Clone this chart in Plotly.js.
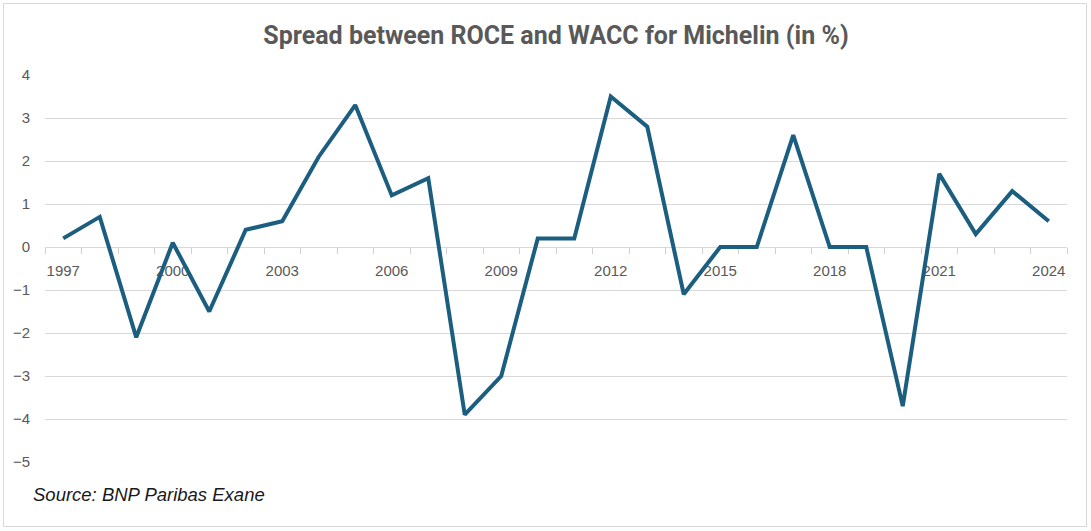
<!DOCTYPE html>
<html>
<head>
<meta charset="utf-8">
<script src="https://cdn.plot.ly/plotly-3.0.1.min.js"></script>
<style>
  html, body { margin: 0; padding: 0; background: #ffffff; }
  #wrap { position: relative; width: 1091px; height: 531px; }
  #chart { width: 1091px; height: 531px; }
  #frame { position: absolute; left: 3px; top: 3px; width: 1084px; height: 524px;
           border: 1px solid #d9d9d9; pointer-events: none; box-sizing: border-box; }
</style>
</head>
<body>
<div id="wrap">
  <div id="chart"></div>
  <div id="frame"></div>
</div>
<script>
const years = ["1997","1998","1999","2000","2001","2002","2003","2004","2005","2006",
               "2007","2008","2009","2010","2011","2012","2013","2014","2015","2016",
               "2017","2018","2019","2020","2021","2022","2023","2024"];
const spread = [0.2, 0.7, -2.1, 0.1, -1.5, 0.4, 0.6, 2.1, 3.3, 1.2,
                1.6, -3.9, -3.0, 0.2, 0.2, 3.5, 2.8, -1.1, 0.0, 0.0,
                2.6, 0.0, 0.0, -3.7, 1.7, 0.3, 1.3, 0.6];
const xTickLabels = ["1997","","","2000","","","2003","","","2006","","","2009","","",
                     "2012","","","2015","","","2018","","","2021","","","2024"];
const yTickVals = [-5, -4, -3, -2, -1, 0, 1, 2, 3, 4];

const nCat = years.length;
// category boundaries for tick marks on the overlay axis
const boundaries = [];
for (let i = 0; i <= nCat; i++) boundaries.push(i - 0.5);

const trace = {
  x: years,
  y: spread,
  type: 'scatter',
  mode: 'lines',
  line: { color: '#1b5e80', width: 4 },
  hoverinfo: 'x+y'
};

const yMin = -5, yMax = 4;
const zeroPos = (0 - yMin) / (yMax - yMin);

const layout = {
  width: 1091,
  height: 531,
  paper_bgcolor: '#ffffff',
  plot_bgcolor: '#ffffff',
  margin: { l: 45, r: 24, t: 75, b: 69 },
  showlegend: false,
  title: {
    text: '<b>Spread between ROCE and WACC for Michelin (in %)</b>',
    font: { family: 'Roboto, "Liberation Sans", sans-serif', size: 25, color: '#595959' },
    x: 0.5, xanchor: 'center', xref: 'paper',
    y: 1 - 35 / 531, yanchor: 'middle', yref: 'container'
  },
  xaxis: {
    type: 'category',
    range: [-0.5, nCat - 0.5],
    tickmode: 'array',
    tickvals: years,
    ticktext: xTickLabels,
    tickangle: 0,
    ticks: '',
    ticklabelstandoff: 10,
    showline: true,
    linecolor: '#d9d9d9',
    linewidth: 1,
    showgrid: false,
    zeroline: false,
    anchor: 'free',
    position: zeroPos,
    layer: 'below traces',
    tickfont: { family: '"Liberation Sans", Arial, sans-serif', size: 15, color: '#595959' },
    fixedrange: true
  },
  xaxis2: {
    type: 'linear',
    overlaying: 'x',
    range: [-0.5, nCat - 0.5],
    tickmode: 'array',
    tickvals: boundaries,
    showticklabels: false,
    ticks: 'outside',
    ticklen: 6,
    tickwidth: 1,
    tickcolor: '#d0d0d0',
    showline: false,
    showgrid: false,
    zeroline: false,
    anchor: 'free',
    position: zeroPos,
    side: 'bottom',
    layer: 'below traces',
    fixedrange: true
  },
  yaxis: {
    range: [yMin, yMax],
    tickmode: 'array',
    tickvals: yTickVals,
    showgrid: true,
    gridcolor: '#d9d9d9',
    gridwidth: 1,
    zeroline: false,
    showline: false,
    ticks: '',
    ticklabelstandoff: 14,
    tickfont: { family: '"Liberation Sans", Arial, sans-serif', size: 15, color: '#595959' },
    fixedrange: true
  },
  annotations: [{
    text: '<i>Source: BNP Paribas Exane</i>',
    xref: 'paper', yref: 'paper',
    x: -14 / 1022, xanchor: 'left',
    y: -(494 - 462) / 387, yanchor: 'middle',
    showarrow: false,
    font: { family: '"Liberation Sans", Arial, sans-serif', size: 18.5, color: '#1a1a1a' }
  }]
};

// invisible helper trace to activate the boundary tick axis
const tickHelper = {
  x: [boundaries[0], boundaries[boundaries.length - 1]],
  y: [0, 0],
  xaxis: 'x2',
  type: 'scatter',
  mode: 'lines',
  line: { width: 0 },
  hoverinfo: 'skip',
  showlegend: false
};

Plotly.newPlot('chart', [tickHelper, trace], layout, { displayModeBar: false, staticPlot: true });
</script>
</body>
</html>
